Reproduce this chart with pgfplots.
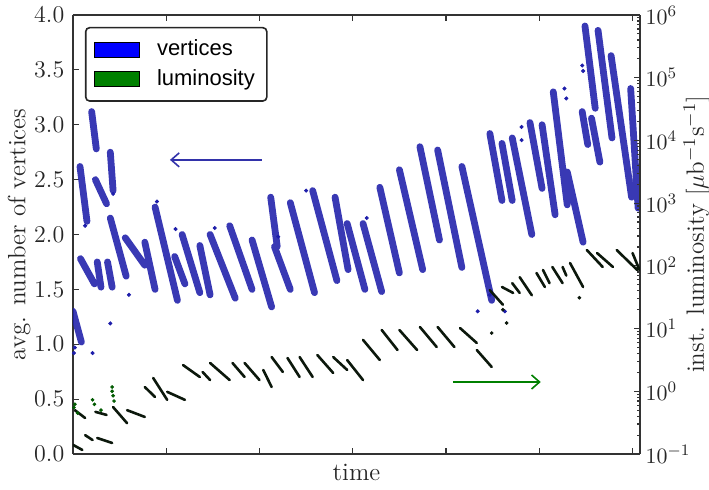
\documentclass[border=0pt]{standalone}
\usepackage{fontspec}
\usepackage{pgfplots}
\usepackage{pgfplotstable}
\pgfplotsset{compat=1.18}
\usetikzlibrary{arrows.meta}
\newfontfamily\legendfont{Liberation Sans}
\definecolor{vblue}{RGB}{30,30,170}
\definecolor{lgreen}{RGB}{0,128,0}
\definecolor{lumcol}{RGB}{12,24,12}
\definecolor{arrblue}{RGB}{50,50,170}
\pgfplotstableread{
x y
0.00 1.30
0.09 1.02
0.05 nan
0.075 2.62
0.15 2.12
0.1 nan
0.08 1.78
0.23 1.55
0.1 nan
0.20 3.12
0.25 2.78
0.2 nan
0.24 2.50
0.36 2.28
0.3 nan
0.26 1.75
0.30 1.52
0.3 nan
0.37 1.75
0.42 1.52
0.4 nan
0.40 2.75
0.43 2.40
0.4 nan
0.40 2.15
0.57 1.62
0.5 nan
0.56 1.97
0.77 1.72
0.7 nan
0.77 1.93
0.88 1.50
0.8 nan
0.88 2.25
1.12 1.40
1.0 nan
1.09 1.80
1.20 1.55
1.1 nan
1.17 2.00
1.36 1.47
1.3 nan
1.36 1.90
1.47 1.45
1.4 nan
1.47 2.00
1.74 1.42
1.6 nan
1.68 2.08
1.92 1.50
1.8 nan
1.92 1.95
2.13 1.34
2.0 nan
2.12 2.34
2.19 1.89
2.1 nan
2.16 1.89
2.33 1.50
2.2 nan
2.33 2.29
2.59 1.47
2.4 nan
2.57 2.40
2.83 1.58
2.7 nan
2.81 2.34
2.95 1.68
2.9 nan
2.94 2.10
3.13 1.50
3.0 nan
3.11 2.10
3.31 1.48
3.2 nan
3.29 2.43
3.50 1.65
3.4 nan
3.50 2.59
3.75 1.68
3.6 nan
3.72 2.80
3.93 1.95
3.8 nan
3.91 2.77
4.17 1.70
4.0 nan
4.17 2.62
4.49 1.40
4.3 nan
4.47 2.92
4.60 2.31
4.5 nan
4.60 2.83
4.71 2.31
4.6 nan
4.71 2.88
4.92 2.00
4.8 nan
4.90 3.02
5.03 2.42
5.0 nan
5.03 3.00
5.17 2.18
5.1 nan
5.15 3.30
5.30 2.27
5.2 nan
5.30 2.57
5.47 1.93
5.4 nan
5.46 3.12
5.52 2.82
5.5 nan
5.49 3.90
5.60 3.15
5.5 nan
5.56 3.06
5.65 2.66
5.6 nan
5.63 3.86
5.78 2.88
5.7 nan
5.77 3.63
5.99 2.34
5.9 nan
5.98 3.33
6.06 2.24
}\vtx
\begin{document}
\fontsize{12.5}{15}\selectfont
\begin{tikzpicture}
\useasboundingbox (-36.5pt,-17.5pt) rectangle (318pt,227pt);
\begin{axis}[
  scale only axis, width=283.5pt, height=219.5pt,
  xmin=0, xmax=6.08, ymin=0, ymax=4,
  axis y line*=left,
  xtick={1,2,3,4,5,6}, xticklabels={},
  ytick={0,0.5,1,1.5,2,2.5,3,3.5,4},
  yticklabel style={/pgf/number format/fixed,/pgf/number format/fixed zerofill,/pgf/number format/precision=1, black!85},
  tick align=inside, major tick length=3pt,
  tick style={black!80, line width=0.6pt},
  axis line style={line width=0.9pt, black!80},
  xlabel={time}, ylabel={avg. number of vertices},
  every axis x label/.style={at={(axis description cs:0.5,0)}, anchor=north, yshift=-0.5pt, black!85},
  every axis y label/.style={at={(axis description cs:-0.0952,0.5)}, anchor=center, rotate=90, black!85},
  unbounded coords=jump,
  legend style={at={(0.021,0.973)}, anchor=north west, font=\legendfont\fontsize{11}{13}\selectfont,
    draw=black!85, line width=0.8pt, rounded corners=2pt, row sep=1pt, inner xsep=4pt, inner ysep=4pt},
  legend cell align=left,
  legend image code/.code={\draw[#1, sharp corners, line width=0.5pt] (0pt,-3.75pt) rectangle (22.5pt,3.75pt); \path (29pt,0pt);},
]
\addlegendimage{fill=blue, draw=black}
\addlegendentry{vertices}
\addlegendimage{fill=lgreen, draw=black}
\addlegendentry{luminosity}

\addplot[vblue, opacity=0.88, line width=3.4pt, line cap=round, forget plot] table {\vtx};
\addplot[only marks, mark=*, mark size=0.8pt, vblue, forget plot] coordinates {
(0.40,1.19)(0.21,0.92)(0.01,0.92)(0.02,0.97)(0.43,2.37)(0.13,2.08)
(5.27,3.33)(5.29,3.24)(5.46,3.54)(5.47,3.49)(4.81,2.98)(4.81,2.86)
(4.34,1.30)(4.47,1.45)(2.50,2.40)(4.63,1.30)(1.10,2.05)(2.20,1.98)
(3.15,2.15)(0.60,1.45)(1.52,2.06)(0.90,2.30)
};
\draw[arrblue, line width=0.8pt, -{Straight Barb[length=4pt,width=7pt]}] (axis cs:2.026,2.68) -- (axis cs:1.04,2.68);
\draw[lgreen, line width=0.8pt, -{Straight Barb[length=4pt,width=7pt]}] (axis cs:4.073,0.656) -- (axis cs:5.016,0.656);
\end{axis}
\begin{axis}[
  scale only axis, width=283.5pt, height=219.5pt,
  xmin=0, xmax=6.08, ymode=log, ymin=0.1, ymax=1e6,
  axis y line*=right, axis x line=none,
  ytick={1e-1,1e0,1e1,1e2,1e3,1e4,1e5,1e6},
  yticklabel style={black!85, font=\fontsize{11}{13}\selectfont, xshift=-1.5pt},
  tick align=inside, major tick length=3pt, minor tick length=1.5pt,
  tick style={black!80, line width=0.6pt},
  axis line style={line width=0.9pt, black!80},
  ylabel={inst. luminosity $\bigl[\mu\mathrm{b}^{-1}\mathrm{s}^{-1}\bigr]$},
  every axis y label/.style={at={(axis description cs:1.1,0.5)}, anchor=center, rotate=90, black!85},
  unbounded coords=jump,
]
\addplot[lumcol, line width=1.3pt, line cap=round] coordinates {
(0.00,0.140)(0.10,0.116) (0.1,nan)
(0.13,0.200)(0.21,0.167) (0.2,nan)
(0.26,0.180)(0.42,0.150) (0.3,nan)
(0.02,0.50)(0.13,0.375) (0.1,nan)
(0.24,0.47)(0.36,0.42) (0.3,nan)
(0.43,0.56)(0.58,0.31) (0.5,nan)
(0.58,0.50)(0.77,0.39) (0.7,nan)
(0.77,1.17)(0.88,0.81) (0.8,nan)
(0.86,1.63)(1.01,0.73) (0.9,nan)
(1.01,0.98)(1.20,0.73) (1.1,nan)
(1.18,2.62)(1.36,1.69) (1.3,nan)
(1.39,2.03)(1.47,1.51) (1.4,nan)
(1.47,2.83)(1.68,1.51) (1.6,nan)
(1.71,2.83)(1.84,1.69) (1.8,nan)
(1.84,2.83)(2.00,1.51) (1.9,nan)
(2.04,2.19)(2.13,1.17) (2.1,nan)
(2.13,3.52)(2.25,2.03) (2.2,nan)
(2.30,3.40)(2.43,1.69) (2.4,nan)
(2.43,3.52)(2.57,1.69) (2.5,nan)
(2.62,3.79)(2.79,1.96) (2.7,nan)
(2.79,3.52)(2.94,2.19) (2.9,nan)
(2.94,3.15)(3.11,1.51) (3.0,nan)
(3.11,6.6)(3.29,3.15) (3.2,nan)
(3.31,9.5)(3.48,4.55) (3.4,nan)
(3.50,9.5)(3.69,4.55) (3.6,nan)
(3.72,10.6)(3.90,5.08) (3.8,nan)
(3.91,10.6)(4.09,5.08) (4.0,nan)
(4.15,10.2)(4.33,5.89) (4.2,nan)
(4.33,4.55)(4.49,2.44) (4.4,nan)
(4.47,41)(4.61,24) (4.5,nan)
(4.60,46)(4.72,37) (4.7,nan)
(4.71,53)(4.79,37) (4.7,nan)
(4.79,66)(4.92,34) (4.9,nan)
(4.97,77)(5.06,46) (5.0,nan)
(5.04,86)(5.11,53) (5.1,nan)
(5.14,96)(5.25,53) (5.2,nan)
(5.25,96)(5.29,70) (5.3,nan)
(5.33,111)(5.47,46) (5.4,nan)
(5.51,179)(5.68,96) (5.6,nan)
(5.62,160)(5.79,96) (5.7,nan)
(5.83,179)(6.05,86) (5.9,nan)
(6.00,160)(6.075,86)
};
\addplot[only marks, mark=*, mark size=0.7pt, lgreen!70!black] coordinates {
(0.42,1.17)(0.42,1.0)(0.43,0.85)(0.44,0.7)(0.21,0.73)(0.23,0.62)(0.02,0.62)(0.01,0.55)(0.05,0.45)(0.30,0.50)
};
\addplot[only marks, mark=*, mark size=0.7pt, lumcol] coordinates {
(4.49,8.5)(4.65,12.3)(5.43,31)(4.61,20)
};
\end{axis}
\end{tikzpicture}
\end{document}
